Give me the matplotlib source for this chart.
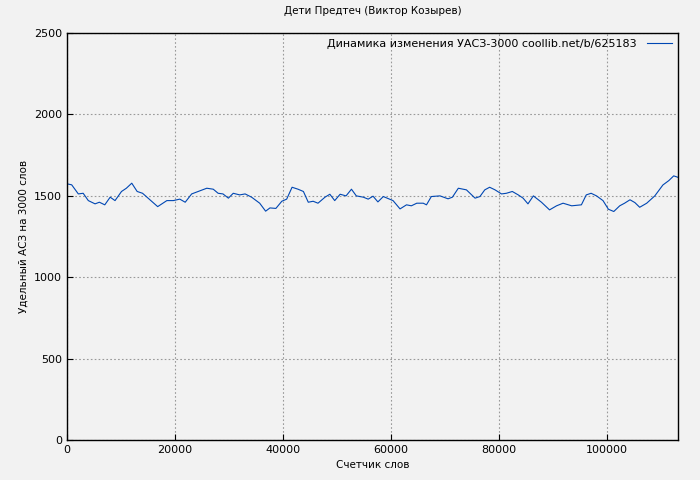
import matplotlib
matplotlib.use("Agg")
import matplotlib.pyplot as plt

words = [0, 870, 2100, 3000, 3950, 5200, 6000, 7000, 8000, 8900, 10100, 11000, 12000,
         13000, 14000, 15400, 16800, 18500, 19700, 20900, 21900, 23100, 24300, 25900,
         27100, 28000, 28900, 29900, 30800, 32000, 33000, 34200, 35700, 36800, 37600,
         38700, 39800, 40700, 41700, 42800, 43800, 44700, 45600, 46500, 47800, 48700,
         49600, 50600, 51700, 52700, 53600, 54900, 55800, 56700, 57600, 58600, 60400,
         61700, 62900, 63800, 64800, 66000, 66600, 67500, 69100, 70600, 71400, 72500,
         74000, 75600, 76500, 77400, 78300, 79300, 80500, 81400, 82500, 83600, 84500,
         85400, 86400, 87900, 89400, 90700, 91900, 93500, 95300, 96200, 97100, 98100,
         99300, 100300, 101300, 102400, 103300, 104300, 105200, 106100, 107400, 108900,
         110400, 111500, 112400, 113200]
uasz = [1574, 1568, 1512, 1516, 1471, 1451, 1461, 1445, 1492, 1471, 1527, 1547, 1578,
        1527, 1516, 1475, 1434, 1471, 1471, 1480, 1461, 1512, 1527, 1547,
        1541, 1516, 1512, 1486, 1516, 1506, 1512, 1492, 1455, 1406, 1426,
        1423, 1467, 1480, 1553, 1541, 1527, 1461, 1467, 1455, 1492, 1510,
        1471, 1510, 1500, 1541, 1500, 1492, 1480, 1498, 1463, 1496, 1471,
        1420, 1445, 1439, 1455, 1455, 1445, 1496, 1500, 1482, 1492, 1547,
        1537, 1486, 1496, 1537, 1553, 1537, 1512, 1516, 1527, 1506, 1486,
        1451, 1500, 1461, 1414, 1439, 1455, 1439, 1445, 1506, 1516, 1500,
        1471, 1418, 1404, 1439, 1455, 1476, 1459, 1430, 1455, 1500,
        1567, 1594, 1623, 1614]

bg = "#f2f2f2"
fig = plt.figure(figsize=(7, 4.8), dpi=100, facecolor=bg)
ax = fig.add_axes([0.0957, 0.0833, 0.8729, 0.8477], facecolor=bg)

ax.plot(words, uasz, color="#0047b3", lw=0.8,
        label="Динамика изменения УАСЗ-3000 coollib.net/b/625183")
ax.set_xlim(0, 113200)
ax.set_ylim(0, 2500)
ax.set_xticks(range(0, 113200, 20000))
ax.set_yticks(range(0, 2501, 500))
ax.grid(True, color="#999999", linestyle=(0, (1.5, 2)), lw=0.8)
ax.tick_params(labelsize=8, direction="in", length=4, top=False, right=False)
for s in ax.spines.values():
    s.set_linewidth(1)
ax.set_title("Дети Предтеч (Виктор Козырев)", fontsize=7.5, pad=14)
ax.set_xlabel("Счетчик слов", fontsize=7.5)
ax.set_ylabel("Удельный АСЗ на 3000 слов", fontsize=7.5)
ax.legend(loc="upper right", frameon=False, markerfirst=False, fontsize=8,
          handlelength=2.3, borderaxespad=0.1, handletextpad=0.9)

fig.savefig("out.png", dpi=100, facecolor=bg)
